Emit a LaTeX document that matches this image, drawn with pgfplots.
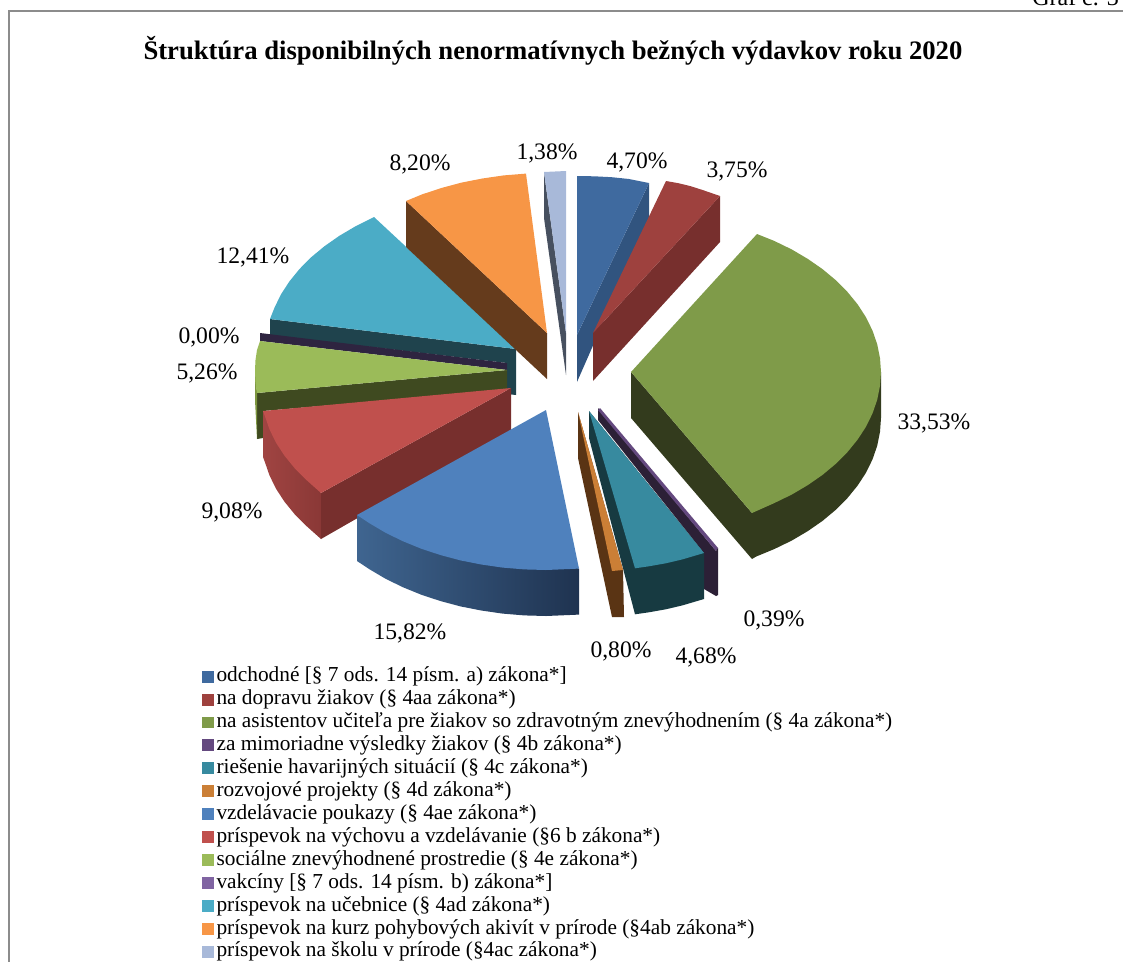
\documentclass[border=0pt]{standalone}
\usepackage{pgfplots}
\pgfplotsset{compat=1.18}
\usepackage{fontspec}
\setmainfont{Liberation Serif}
\definecolor{cA}{HTML}{3F6A9F}\definecolor{cAs}{HTML}{31547F}
\definecolor{cB}{HTML}{9E413E}\definecolor{cBs}{HTML}{772F2D}
\definecolor{cC}{HTML}{7F9B49}\definecolor{cCs}{HTML}{333B1D}
\definecolor{cD}{HTML}{64497F}\definecolor{cDs}{HTML}{2C2036}
\definecolor{cE}{HTML}{378A9F}\definecolor{cEs}{HTML}{173A41}
\definecolor{cF}{HTML}{CB7F36}\definecolor{cFs}{HTML}{5A3414}
\definecolor{cG}{HTML}{4F81BD}\definecolor{cGl}{HTML}{3F6590}\definecolor{cGr}{HTML}{1F3350}
\definecolor{cH}{HTML}{C0504D}\definecolor{cHs}{HTML}{772F2D}\definecolor{cHl}{HTML}{A04442}\definecolor{cHr}{HTML}{8A3836}
\definecolor{cI}{HTML}{9BBB59}\definecolor{cIs}{HTML}{3F4A20}\definecolor{cIe}{HTML}{7D963F}
\definecolor{cJ}{HTML}{8064A2}\definecolor{cJs}{HTML}{2E2440}
\definecolor{cK}{HTML}{4BACC6}\definecolor{cKs}{HTML}{1F434D}
\definecolor{cL}{HTML}{F79646}\definecolor{cLs}{HTML}{653B1C}
\definecolor{cM}{HTML}{A8B9D9}\definecolor{cMs}{HTML}{47505F}
\definecolor{frame}{HTML}{8C8C8C}
\tikzset{lab/.style={font=\fontsize{17.7bp}{20bp}\selectfont,inner sep=0pt}}
\pgfplotsset{
  poly/.style={draw=none,fill=#1,forget plot},
  grad/.style n args={2}{draw=none,left color=#1,right color=#2,forget plot},
  legend image code/.code={\fill[#1] (0bp,-3bp) rectangle (8.3bp,5.2bp);}
}
\begin{document}
\begin{tikzpicture}
\path[use as bounding box] (0,0) rectangle (842.25bp,721.5bp);
\clip (0,0) rectangle (842.25bp,721.5bp);
\begin{axis}[
  at={(0,0)},anchor=south west,
  scale only axis,width=842.25bp,height=721.5bp,
  xmin=0,xmax=1123,ymin=0,ymax=962,y dir=reverse,
  axis lines=none,clip=false,
  legend style={at={(axis cs:202,666.4)},anchor=north west,draw=none,fill=none,
    font=\fontsize{16bp}{17bp}\selectfont,inner sep=0pt,outer sep=0pt,
    row sep=0pt,column sep=2.2bp,
    nodes={inner sep=0pt,outer sep=0pt,text height=11.5bp,text depth=5.7bp}},
  legend cell align=left,
]
% legend keys
\addlegendimage{cA}\addlegendentry{odchodné [§ 7 ods. 14 písm. a) zákona*]}
\addlegendimage{cB}\addlegendentry{na dopravu žiakov (§ 4aa zákona*)}
\addlegendimage{cC}\addlegendentry{na asistentov učiteľa pre žiakov so zdravotným znevýhodnením (§ 4a zákona*)}
\addlegendimage{cD}\addlegendentry{za mimoriadne výsledky žiakov (§ 4b zákona*)}
\addlegendimage{cE}\addlegendentry{riešenie havarijných situácií (§ 4c zákona*)}
\addlegendimage{cF}\addlegendentry{rozvojové projekty (§ 4d zákona*)}
\addlegendimage{cG}\addlegendentry{vzdelávacie poukazy (§ 4ae zákona*)}
\addlegendimage{cH}\addlegendentry{príspevok na výchovu a vzdelávanie (§6 b zákona*)}
\addlegendimage{cI}\addlegendentry{sociálne znevýhodnené prostredie (§ 4e zákona*)}
\addlegendimage{cJ}\addlegendentry{vakcíny [§ 7 ods. 14 písm. b) zákona*]}
\addlegendimage{cK}\addlegendentry{príspevok na učebnice (§ 4ad zákona*)}
\addlegendimage{cL}\addlegendentry{príspevok na kurz pohybových akivít v prírode (§4ab zákona*)}
\addlegendimage{cM}\addlegendentry{príspevok na školu v prírode (§4ac zákona*)}
% frame
\addplot[frame,line width=0.8bp,forget plot] coordinates {(9,962)(9,11)(1123,11)};
% 1,38 %
\addplot[poly=cMs] coordinates {(544,172)(544,218)(566,375)(566,333)} --cycle;
\addplot[poly=cM] coordinates {(544,172)(566,171)(566,333)} --cycle;
% 4,70 %
\addplot[poly=cAs] coordinates {(649,183)(649,218)(577,382)(577,335)} --cycle;
\addplot[poly=cA] coordinates {(577,176)(594.4,176.3)(611.8,177.2)(629,179)(649,183)(577,335)} --cycle;
% 3,75 %
\addplot[poly=cBs] coordinates {(720,196)(720,242)(593,381)(593,333)} --cycle;
\addplot[poly=cB] coordinates {(666,181)(678.5,183.2)(690.7,186.2)(702.6,190)(720,196)(593,333)} --cycle;
% 33,53 %
\addplot[poly=cCs] coordinates {(631,372)(631,418)(752,559)(756,556.6)(774.4,549)(791.7,540.6)(807.8,531.1)(822.5,520.9)(835.8,509.8)(847.5,498)(857.6,485.6)(866,472.7)(872.5,459.4)(877.2,445.8)(880,431.9)(881,418)(881,372)(752,513)} --cycle;
\addplot[poly=cC] coordinates {(631,372)(757,234)(774.4,241)(791.7,249.4)(807.8,258.9)(822.5,269.1)(835.8,280.2)(847.5,292)(857.6,304.3)(866,317.3)(872.5,330.6)(877.2,344.2)(880,358.1)(881,372)(880,385.9)(877.2,399.8)(872.5,413.4)(866,426.7)(857.6,439.6)(847.5,452)(835.8,463.8)(822.5,474.9)(807.8,485.1)(791.7,494.6)(774.4,503)(752,513)} --cycle;
% 0,39 %
\addplot[poly=cDs] coordinates {(598,408)(716,551)(716,596)(704,589)(704,553)(598,420)} --cycle;
\addplot[poly=cD] coordinates {(600,408)(718,548)(716,551)(598,410)} --cycle;
\addplot[poly=cDs] coordinates {(716,551)(718,548)(718,595)(716,596)} --cycle;
% 4,68 %
\addplot[poly=cEs] coordinates {(589,411)(589,438)(635,614.3)(649.5,612.2)(666.3,609.2)(682.7,605.3)(704,599)(704,553)} --cycle;
\addplot[poly=cE] coordinates {(589,411)(704,553)(682.7,559.3)(666.3,563.2)(649.5,566.2)(635,568.3)} --cycle;
% 0,80 %
\addplot[poly=cFs] coordinates {(578,412)(578,458)(612,617)(624,617)(623,570)} --cycle;
\addplot[poly=cF] coordinates {(578,412)(623,570)(612,571)} --cycle;
% 12,41 %
\addplot[poly=cKs] coordinates {(270,319)(516,349)(516,395)(507,394)(507,363)(270,335)} --cycle;
\addplot[poly=cK] coordinates {(516,349)(374,217)(355.3,226.4)(339.2,235.9)(324.5,246.2)(311.2,257.2)(299.5,269)(289.4,281.4)(281,294.3)(274.5,307.6)(270,319)} --cycle;
% 8,20 %
\addplot[poly=cLs] coordinates {(406,201)(547,333)(547,379)(406,247)} --cycle;
\addplot[poly=cL] coordinates {(547,333)(526,173.6)(503.6,175.4)(482.3,178.5)(461.5,182.6)(441.3,188)(422,194.4)(406,201)} --cycle;
% 0,00 %
\addplot[poly=cJs] coordinates {(260,333)(507,363)(507,370)(260,341)} --cycle;
% 5,26 %
\addplot[poly=cIs] coordinates {(257,393)(507,370)(507,390)(263,411)(263,438)(257,439)} --cycle;
\addplot[poly=cIe] coordinates {(255,367)(257,393)(257,439)(255,400)} --cycle;
\addplot[poly=cI] coordinates {(507,370)(260,341)(257,350)(255.5,360)(255,370)(255.5,382)(257,393)} --cycle;
% 9,08 %
\addplot[grad={cHl}{cHr}] coordinates {(263,411)(263,457)(264.8,461.8)(269.5,475.4)(276,488.7)(284.4,501.6)(294.5,514)(306.2,525.8)(321,539)(321,493)} --cycle;
\addplot[poly=cHs] coordinates {(321,493)(511,388)(511,430)(321,539)} --cycle;
\addplot[poly=cH] coordinates {(511,388)(263,411)(264.8,415.8)(269.5,429.4)(276,442.7)(284.4,455.6)(294.5,468)(306.2,479.8)(321,493)} --cycle;
% 15,82 %
\addplot[grad={cGl}{cGr}] coordinates {(357,515)(357,561)(369.2,569.1)(385.3,578.6)(402.6,587.1)(421,594.6)(440.3,601)(460.5,606.4)(481.3,610.5)(502.6,613.6)(524.2,615.4)(546,616)(579,614.6)(579,568.6)} --cycle;
\addplot[poly=cG] coordinates {(546,410)(579,568.6)(546,570)(524.2,569.4)(502.6,567.6)(481.3,564.5)(460.5,560.4)(440.3,555)(421,548.6)(402.6,541.1)(385.3,532.6)(369.2,523.1)(357,515)} --cycle;
% texts
\node[font=\fontsize{20bp}{22bp}\bfseries,inner sep=0pt] at (axis cs:553,51) {Štruktúra disponibilných nenormatívnych bežných výdavkov roku 2020};
\node[anchor=base west,font=\fontsize{18bp}{20bp}\selectfont,inner sep=0pt] at (axis cs:1032,5) {Graf č. 3};
\node[lab] at (axis cs:637,162) {4,70\%};
\node[lab] at (axis cs:737,171) {3,75\%};
\node[lab] at (axis cs:934,423) {33,53\%};
\node[lab] at (axis cs:774,620) {0,39\%};
\node[lab] at (axis cs:706,657) {4,68\%};
\node[lab] at (axis cs:621,651) {0,80\%};
\node[lab] at (axis cs:410,633) {15,82\%};
\node[lab] at (axis cs:232,512) {9,08\%};
\node[lab] at (axis cs:207,373) {5,26\%};
\node[lab] at (axis cs:209,337) {0,00\%};
\node[lab] at (axis cs:253,257) {12,41\%};
\node[lab] at (axis cs:420,164) {8,20\%};
\node[lab] at (axis cs:547,153) {1,38\%};
\end{axis}
\end{tikzpicture}
\end{document}
